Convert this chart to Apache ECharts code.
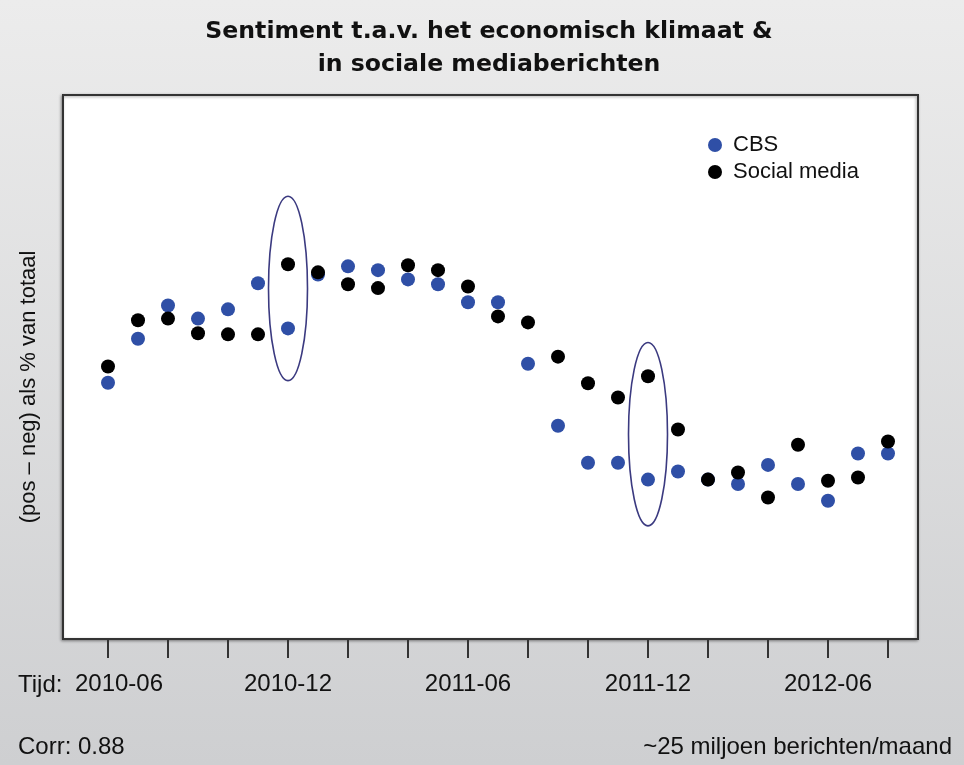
<!DOCTYPE html>
<html>
<head>
<meta charset="utf-8">
<script src="https://cdn.jsdelivr.net/npm/echarts@6/dist/echarts.min.js"></script>
<style>
  html, body { margin: 0; padding: 0; }
  #chart { width: 964px; height: 765px; }
</style>
</head>
<body>
<div id="chart"></div>
<script>
// months on the x axis (one point per month)
const months = [
  "2010-06", "2010-07", "2010-08", "2010-09", "2010-10", "2010-11", "2010-12",
  "2011-01", "2011-02", "2011-03", "2011-04", "2011-05", "2011-06", "2011-07",
  "2011-08", "2011-09", "2011-10", "2011-11", "2011-12", "2012-01", "2012-02",
  "2012-03", "2012-04", "2012-05", "2012-06", "2012-07", "2012-08"
];
// sentiment index (no scale printed on the chart, read relative to the frame)
const cbs = [
  47.1, 55.2, 61.3, 58.9, 60.6, 65.4, 57.1, 67.0, 68.5, 67.8, 66.1, 65.2, 61.9, 61.9,
  50.6, 39.2, 32.4, 32.4, 29.3, 30.8, 29.3, 28.5, 32.0, 28.5, 25.4, 34.1, 34.1
];
const socialMedia = [
  50.1, 58.6, 58.9, 56.2, 56.0, 56.0, 68.9, 67.4, 65.2, 64.5, 68.7, 67.8, 64.8, 59.3,
  58.2, 51.9, 47.0, 44.4, 48.3, 38.5, 29.3, 30.6, 26.0, 35.7, 29.1, 29.7, 36.3
];
// circled months and the value range each ellipse covers
const highlights = [
  { month: "2010-12", top: 81.4, bottom: 47.5 },
  { month: "2011-12", top: 54.5, bottom: 20.8 }
];

const FONT = "Liberation Sans, Arial, sans-serif";
const tickValues = months.map((m, i) => i).filter((i) => i % 2 === 0);
const labelValues = months
  .map((m, i) => i)
  .filter((i) => months[i].endsWith("-06") || months[i].endsWith("-12"));

const myChart = echarts.init(document.getElementById("chart"));

let option = {
  backgroundColor: new echarts.graphic.LinearGradient(0, 0, 0, 1, [
    { offset: 0, color: "#ececec" },
    { offset: 1, color: "#cecfd1" },
  ]),
  animation: false,
  title: {
    text: "Sentiment t.a.v. het economisch klimaat &\nin sociale mediaberichten",
    left: 484,
    textAlign: "center",
    top: 10,
    textStyle: {
      fontFamily: "DejaVu Sans",
      fontSize: 23.6,
      fontWeight: "bold",
      lineHeight: 33,
      color: "#111",
    },
  },
  legend: {
    orient: "vertical",
    left: 708,
    top: 134,
    padding: 0,
    itemGap: 5,
    itemWidth: 14,
    itemHeight: 14,
    icon: "circle",
    textStyle: {
      fontFamily: FONT,
      fontSize: 22,
      color: "#111",
      padding: [0, 0, 0, 6],
    },
    data: ["CBS", "Social media"],
  },
  grid: {
    left: 63,
    right: 46,
    top: 95,
    bottom: 126,
    show: true,
    backgroundColor: "#fff",
    borderColor: "#333",
    borderWidth: 2,
    shadowColor: "rgba(0,0,0,0.35)",
    shadowBlur: 3,
    shadowOffsetX: -1,
    shadowOffsetY: 1,
  },
  xAxis: {
    type: "value",
    min: -1.5,
    max: 27,
    splitLine: { show: false },
    axisLine: { show: false },
    axisTick: {
      show: true,
      customValues: tickValues,
      length: 19,
      lineStyle: { color: "#333", width: 2 },
    },
    axisLabel: {
      customValues: labelValues,
      // first label sits right of "Tijd:"
      formatter: (v) => (v === 0 ? "{first|" + months[v] + "}" : months[v]),
      rich: {
        first: {
          fontFamily: FONT,
          fontSize: 24,
          color: "#111",
          padding: [0, 0, 0, 22],
        },
      },
      margin: 33,
      fontFamily: FONT,
      fontSize: 24,
      color: "#111",
    },
  },
  yAxis: {
    type: "value",
    min: 0,
    max: 100,
    name: "(pos – neg) als % van totaal",
    nameLocation: "middle",
    nameRotate: 90,
    nameGap: 23,
    nameTextStyle: {
      fontFamily: FONT,
      fontSize: 22,
      color: "#111",
      padding: [0, 40, 0, 0],
    },
    axisLine: { show: false },
    axisTick: { show: false },
    axisLabel: { show: false },
    splitLine: { show: false },
  },
  graphic: [
    {
      type: "text",
      left: 18,
      top: 673,
      style: { text: "Tijd:", font: "24px " + FONT, fill: "#111" },
    },
    {
      type: "text",
      left: 18,
      top: 735,
      style: { text: "Corr: 0.88", font: "24px " + FONT, fill: "#111" },
    },
    {
      type: "text",
      right: 12,
      top: 735,
      style: { text: "~25 miljoen berichten/maand", font: "24px " + FONT, fill: "#111" },
    },
  ],
  series: [
    {
      name: "CBS",
      type: "scatter",
      symbolSize: 14,
      itemStyle: { color: "#2f4fa6", opacity: 1 },
      data: cbs.map((v, i) => [i, v]),
    },
    {
      name: "Social media",
      type: "scatter",
      symbolSize: 14,
      itemStyle: { color: "#000", opacity: 1 },
      data: socialMedia.map((v, i) => [i, v]),
    },
  ],
};
option && myChart.setOption(option);

// ellipses round the circled months, placed through the axes
const ellipses = highlights.map((h) => {
  const idx = months.indexOf(h.month);
  const pTop = myChart.convertToPixel({ gridIndex: 0 }, [idx, h.top]);
  const pBottom = myChart.convertToPixel({ gridIndex: 0 }, [idx, h.bottom]);
  const pSide = myChart.convertToPixel({ gridIndex: 0 }, [idx + 0.65, h.top]);
  return {
    type: "ellipse",
    z: 10,
    shape: {
      cx: pTop[0],
      cy: (pTop[1] + pBottom[1]) / 2,
      rx: pSide[0] - pTop[0],
      ry: (pBottom[1] - pTop[1]) / 2,
    },
    style: { fill: null, stroke: "#3b3a80", lineWidth: 1.6 },
  };
});
myChart.setOption({ graphic: option.graphic.concat(ellipses) });
</script>
</body>
</html>
